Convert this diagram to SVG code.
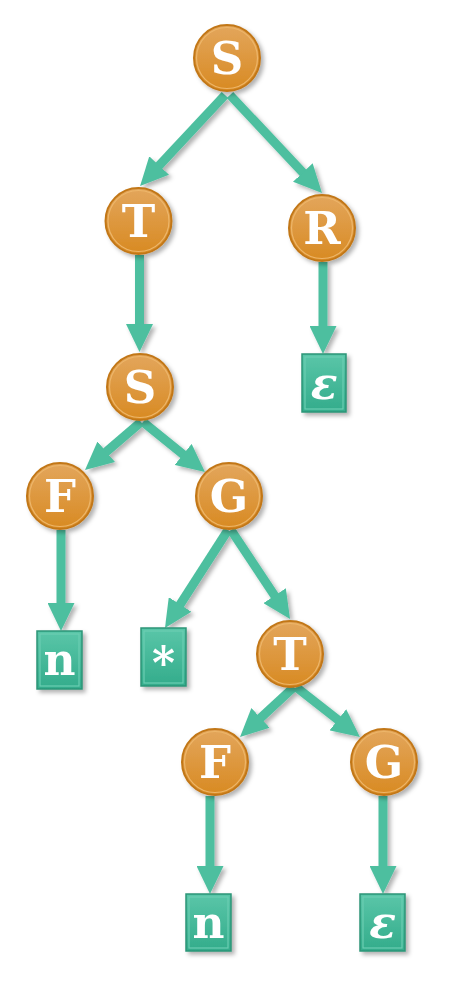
<svg xmlns="http://www.w3.org/2000/svg" width="459" height="997" viewBox="0 0 459 997">
<style>
.edge{stroke:#4DBF9F;stroke-width:9;fill:none;marker-end:url(#ah)}
.node circle{fill:url(#og);stroke:#C27719;stroke-width:2}
.node .rim{fill:none;stroke:#EDB66A;stroke-width:1.2}
.node text{font-family:"DejaVu Serif","Liberation Serif",serif;font-weight:bold;font-size:45px;fill:#fff;text-anchor:middle}
.leaf rect.b{fill:url(#tg);stroke:#2B9577;stroke-width:1.5}
.leaf rect.i{fill:none;stroke:#6CCDB2;stroke-width:1.2}
.leaf text{font-family:"DejaVu Serif","Liberation Serif",serif;font-weight:bold;font-size:44px;fill:#fff;text-anchor:middle}
</style>
<defs>
<linearGradient id="og" x1="0" y1="0" x2="0" y2="1">
<stop offset="0" stop-color="#E3A65C"/>
<stop offset="1" stop-color="#D88A22"/>
</linearGradient>
<linearGradient id="tg" x1="0" y1="0" x2="0" y2="1">
<stop offset="0" stop-color="#5AC6A8"/>
<stop offset="1" stop-color="#33AC8B"/>
</linearGradient>
<filter id="sh" filterUnits="userSpaceOnUse" x="0" y="0" width="459" height="997">
<feDropShadow dx="3" dy="3" stdDeviation="2" flood-color="#000" flood-opacity="0.3"/>
</filter>
<marker id="ah" markerUnits="userSpaceOnUse" markerWidth="28" markerHeight="27" viewBox="0 0 28 27" refX="8" refY="13.5" orient="auto">
<path d="M0,0 L28,13.5 L0,27 z" fill="#4DBF9F"/>
</marker>
</defs>
<g id="connectors" filter="url(#sh)">
<line class="edge" x1="225" y1="95" x2="153.7" y2="171.4"/>
<line class="edge" x1="230" y1="95" x2="308.3" y2="178.4"/>
<line class="edge" x1="139.5" y1="255" x2="139.5" y2="332"/>
<line class="edge" x1="323" y1="262" x2="323" y2="334"/>
<line class="edge" x1="141" y1="422" x2="100.2" y2="457"/>
<line class="edge" x1="143" y1="422" x2="189.4" y2="459.4"/>
<line class="edge" x1="61" y1="530" x2="61" y2="611"/>
<line class="edge" x1="228" y1="530" x2="175.8" y2="611.2"/>
<line class="edge" x1="231" y1="530" x2="279" y2="602.3"/>
<line class="edge" x1="294" y1="687" x2="254.7" y2="723.4"/>
<line class="edge" x1="296" y1="687" x2="344.2" y2="724.7"/>
<line class="edge" x1="210" y1="796" x2="210" y2="874"/>
<line class="edge" x1="383" y1="796" x2="383" y2="874"/>
</g>
<g id="n-S1" class="node" filter="url(#sh)"><circle cx="227" cy="58" r="33"/><circle class="rim" cx="227" cy="58" r="30.5"/><text x="227" y="74">S</text></g>
<g id="n-T1" class="node" filter="url(#sh)"><circle cx="138.5" cy="221" r="33"/><circle class="rim" cx="138.5" cy="221" r="30.5"/><text x="138.5" y="237">T</text></g>
<g id="n-R" class="node" filter="url(#sh)"><circle cx="322" cy="228" r="33"/><circle class="rim" cx="322" cy="228" r="30.5"/><text x="322" y="244">R</text></g>
<g id="n-S2" class="node" filter="url(#sh)"><circle cx="140" cy="387" r="33"/><circle class="rim" cx="140" cy="387" r="30.5"/><text x="140" y="403">S</text></g>
<g id="n-F1" class="node" filter="url(#sh)"><circle cx="60" cy="496" r="33"/><circle class="rim" cx="60" cy="496" r="30.5"/><text x="60" y="512">F</text></g>
<g id="n-G1" class="node" filter="url(#sh)"><circle cx="229" cy="496" r="33"/><circle class="rim" cx="229" cy="496" r="30.5"/><text x="229" y="512">G</text></g>
<g id="n-T2" class="node" filter="url(#sh)"><circle cx="290" cy="654" r="33"/><circle class="rim" cx="290" cy="654" r="30.5"/><text x="290" y="670">T</text></g>
<g id="n-F2" class="node" filter="url(#sh)"><circle cx="215" cy="762" r="33"/><circle class="rim" cx="215" cy="762" r="30.5"/><text x="215" y="778">F</text></g>
<g id="n-G2" class="node" filter="url(#sh)"><circle cx="384" cy="762" r="33"/><circle class="rim" cx="384" cy="762" r="30.5"/><text x="384" y="778">G</text></g>
<g id="l-eps1" class="leaf" filter="url(#sh)"><rect class="b" x="302" y="354" width="44" height="58"/><rect class="i" x="305" y="357" width="38" height="52"/><text x="324" y="399" font-style="italic">ε</text></g>
<g id="l-n1" class="leaf" filter="url(#sh)"><rect class="b" x="37" y="631" width="45" height="58"/><rect class="i" x="40" y="634" width="39" height="52"/><text x="59.5" y="675">n</text></g>
<g id="l-star" class="leaf" filter="url(#sh)"><rect class="b" x="141" y="628" width="45" height="58"/><rect class="i" x="144" y="631" width="39" height="52"/><text x="163.5" y="679" font-size="66">*</text></g>
<g id="l-n2" class="leaf" filter="url(#sh)"><rect class="b" x="186" y="894" width="45" height="57"/><rect class="i" x="189" y="897" width="39" height="51"/><text x="208.5" y="938">n</text></g>
<g id="l-eps2" class="leaf" filter="url(#sh)"><rect class="b" x="360" y="894" width="45" height="57"/><rect class="i" x="363" y="897" width="39" height="51"/><text x="382.5" y="938" font-style="italic">ε</text></g>
</svg>
